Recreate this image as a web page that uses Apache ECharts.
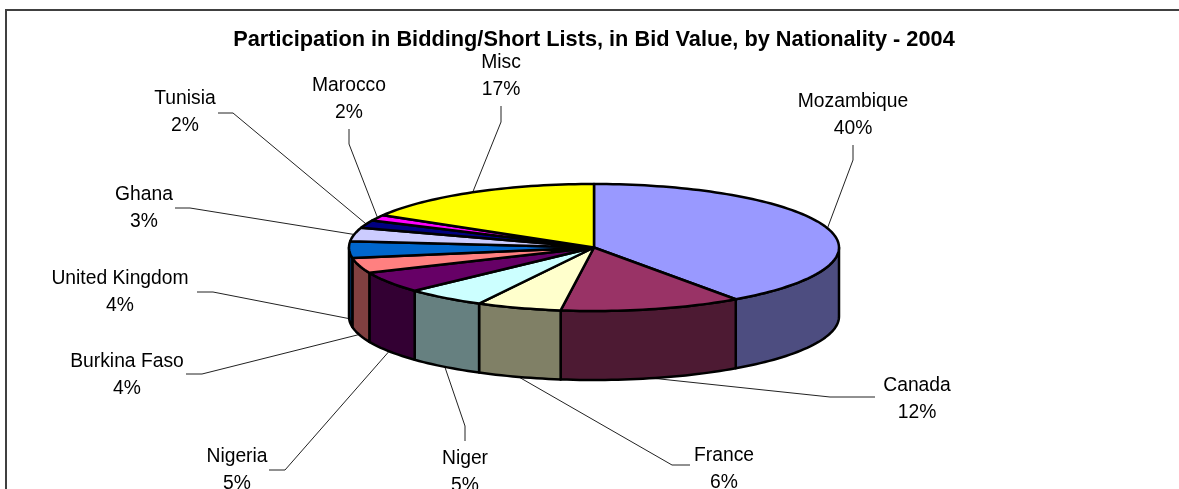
<!DOCTYPE html>
<html>
<head>
<meta charset="utf-8">
<style>html,body{margin:0;padding:0;background:#fff}#c{width:1179px;height:489px}</style>
<script src="https://cdn.jsdelivr.net/npm/echarts@6/dist/echarts.min.js"></script>
</head>
<body>
<div id="c"></div>
<script>
var titleText = 'Participation in Bidding/Short Lists, in Bid Value, by Nationality - 2004';
var categories = ['Mozambique','Canada','France','Niger','Nigeria','Burkina Faso','United Kingdom','Ghana','Tunisia','Marocco','Misc'];
// slice sizes (percent)
var values = [40.2, 12.0, 5.6, 5.3, 5.4, 3.9, 4.2, 3.45, 2.0, 1.5, 16.5];
// percentages as printed on the labels
var printedPercents = [40, 12, 6, 5, 5, 4, 4, 3, 2, 2, 17];
var topColors = ['#9999FF','#993366','#FFFFCC','#CCFFFF','#660066','#FF8080','#0066CC','#CCCCFF','#000080','#FF00FF','#FFFF00'];
var sideColors = ['#4D4D80','#4D1A33','#808066','#668080','#330033','#804040','#003366','#666680','#000040','#800080','#808000'];
// label placement: centre of the two-line label, and the leader elbow + leader end
var labelCentres = [[853,115],[917,399],[724,469],[465,472],[237,470],[127,375],[120,292],[144,208],[185,112.5],[349,99],[501,76]];
var leaderElbows = [[[853,160],[853,145]],[[830,397],[875,397]],[[672,465],[690,465]],[[465,426],[465,441]],[[285,470],[269,470]],[[202,374],[186,374]],[[213,292],[197,292]],[[190,208],[175,208]],[[233,113],[218,113]],[[349,144],[349,129]],[[501,122],[501,106]]];

var CX = 594, CY = 247.5, RX = 245, RY = 63.5, DEPTH = 69;
var total = values.reduce(function(a,b){return a+b;},0);
function pt(deg, dy){
  var t = deg*Math.PI/180;
  return [CX + RX*Math.sin(t), CY - RY*Math.cos(t) + (dy||0)];
}
function arc(a0, a1, dy){
  var pts = [], n = Math.max(2, Math.ceil((a1-a0)/1.5));
  for (var i=0;i<=n;i++) pts.push(pt(a0+(a1-a0)*i/n, dy));
  return pts;
}
function renderSlice(params, api){
  var i = params.dataIndex, sum = 0;
  for (var k=0;k<i;k++) sum += values[k];
  var a0 = sum/total*360, a1 = (sum+api.value(0))/total*360, mid = (a0+a1)/2;
  var kids = [];
  var s0 = Math.max(a0,90), s1 = Math.min(a1,270);
  if (s1 > s0) {
    kids.push({type:'polygon', z2:1, shape:{points: arc(s0,s1,0).concat(arc(s0,s1,DEPTH).reverse())},
      style:{fill:sideColors[i], stroke:'#000', lineWidth:2.5, lineJoin:'round'}});
  }
  kids.push({type:'polygon', z2:2, shape:{points: [[CX,CY]].concat(arc(a0,a1,0))},
    style:{fill:topColors[i], stroke:'#000', lineWidth:2.5, lineJoin:'round'}});
  var front = mid > 90 && mid < 270;
  var anchor = pt(mid, front ? DEPTH : 0);
  kids.push({type:'polyline', z2:0, shape:{points:[anchor].concat(leaderElbows[i])},
    style:{fill:null, stroke:'#222', lineWidth:1}});
  kids.push({type:'text', z2:3, style:{text:categories[i]+'\n'+printedPercents[i]+'%',
    x:labelCentres[i][0], y:labelCentres[i][1], align:'center', verticalAlign:'middle',
    fill:'#000', fontFamily:'"Liberation Sans", Arial, sans-serif', fontSize:19.3, lineHeight:27}});
  return {type:'group', children:kids};
}
var chart = echarts.init(document.getElementById('c'), null, {renderer:'canvas'});
chart.setOption({
  animation:false,
  backgroundColor:'#fff',
  title:{text:titleText, left:589, top:24, textAlign:'center',
    textStyle:{fontFamily:'"Liberation Sans", Arial, sans-serif', fontSize:21.75, fontWeight:'bold', color:'#000'}},
  graphic:[{type:'polyline', silent:true, shape:{points:[[6,489],[6,10],[1179,10]]},
    style:{fill:null, stroke:'#404040', lineWidth:2}}],
  series:[{type:'custom', coordinateSystem:'none', silent:true, clip:false,
    data: values.map(function(v){return [v];}), renderItem: renderSlice}]
});
</script>
</body>
</html>
